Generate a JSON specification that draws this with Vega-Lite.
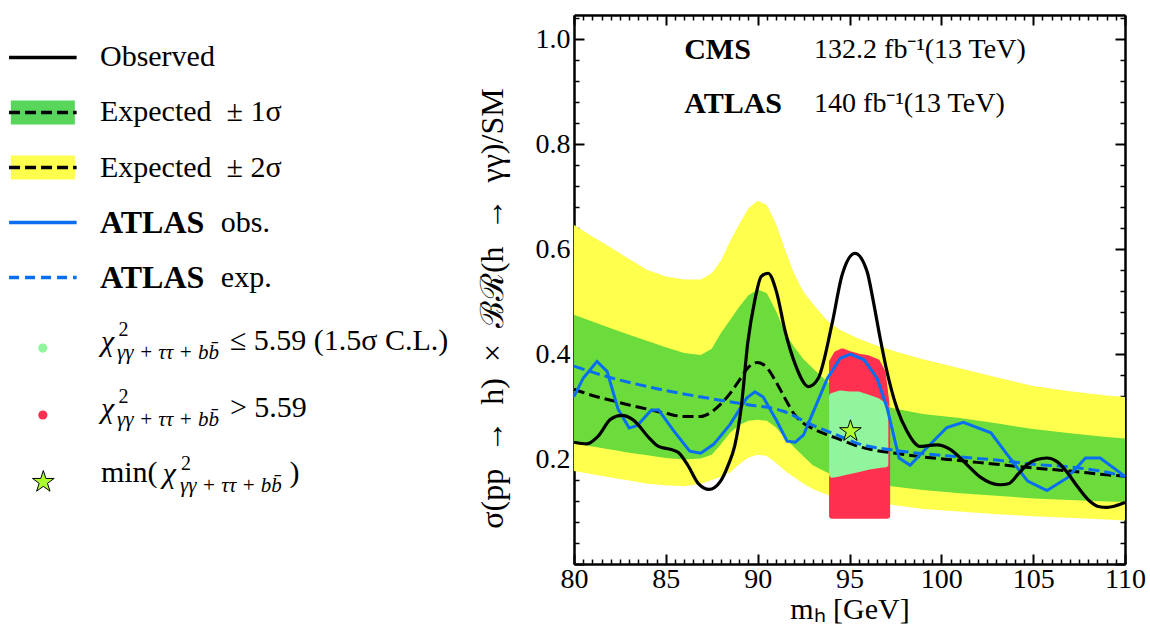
{
  "$schema": "https://vega.github.io/schema/vega-lite/v6.json",
  "background": "white",
  "padding": {"top": 4, "left": 0, "right": 0, "bottom": 0},
  "spacing": 0,
  "config": {
    "view": {"stroke": null},
    "font": "Liberation Serif",
    "text": {"font": "Liberation Serif", "color": "black"},
    "axis": {"labelFont": "Liberation Serif", "titleFont": "Liberation Serif", "labelColor": "black", "titleColor": "black", "grid": false, "zindex": 1}
  },
  "datasets": {
    "band": [
      {"m": 80, "lo2": 0.177, "lo1": 0.23, "exp": 0.333, "hi1": 0.475, "hi2": 0.646},
      {"m": 81, "lo2": 0.171, "lo1": 0.224, "exp": 0.321, "hi1": 0.462, "hi2": 0.624},
      {"m": 82, "lo2": 0.165, "lo1": 0.218, "exp": 0.312, "hi1": 0.449, "hi2": 0.603},
      {"m": 83, "lo2": 0.159, "lo1": 0.212, "exp": 0.303, "hi1": 0.437, "hi2": 0.581},
      {"m": 84, "lo2": 0.153, "lo1": 0.207, "exp": 0.295, "hi1": 0.425, "hi2": 0.56},
      {"m": 85, "lo2": 0.15, "lo1": 0.202, "exp": 0.287, "hi1": 0.413, "hi2": 0.548},
      {"m": 86, "lo2": 0.148, "lo1": 0.199, "exp": 0.281, "hi1": 0.402, "hi2": 0.542},
      {"m": 86.9, "lo2": 0.153, "lo1": 0.201, "exp": 0.281, "hi1": 0.398, "hi2": 0.542},
      {"m": 87.5, "lo2": 0.16, "lo1": 0.208, "exp": 0.29, "hi1": 0.41, "hi2": 0.554},
      {"m": 88.0, "lo2": 0.166, "lo1": 0.228, "exp": 0.305, "hi1": 0.44, "hi2": 0.578},
      {"m": 88.5, "lo2": 0.175, "lo1": 0.25, "exp": 0.325, "hi1": 0.465, "hi2": 0.615},
      {"m": 89.0, "lo2": 0.19, "lo1": 0.265, "exp": 0.35, "hi1": 0.49, "hi2": 0.648},
      {"m": 89.5, "lo2": 0.203, "lo1": 0.273, "exp": 0.375, "hi1": 0.512, "hi2": 0.678},
      {"m": 90.0, "lo2": 0.208, "lo1": 0.275, "exp": 0.384, "hi1": 0.523, "hi2": 0.692},
      {"m": 90.5, "lo2": 0.206, "lo1": 0.273, "exp": 0.374, "hi1": 0.516, "hi2": 0.684},
      {"m": 91.0, "lo2": 0.193, "lo1": 0.26, "exp": 0.347, "hi1": 0.482, "hi2": 0.648},
      {"m": 91.5, "lo2": 0.177, "lo1": 0.24, "exp": 0.315, "hi1": 0.44, "hi2": 0.598},
      {"m": 92.0, "lo2": 0.165, "lo1": 0.222, "exp": 0.285, "hi1": 0.413, "hi2": 0.552},
      {"m": 92.5, "lo2": 0.153, "lo1": 0.205, "exp": 0.268, "hi1": 0.39, "hi2": 0.518},
      {"m": 93.0, "lo2": 0.143, "lo1": 0.188, "exp": 0.258, "hi1": 0.373, "hi2": 0.496},
      {"m": 93.8, "lo2": 0.132, "lo1": 0.174, "exp": 0.246, "hi1": 0.347, "hi2": 0.463},
      {"m": 94.5, "lo2": 0.125, "lo1": 0.165, "exp": 0.237, "hi1": 0.331, "hi2": 0.446},
      {"m": 95.5, "lo2": 0.12, "lo1": 0.158, "exp": 0.224, "hi1": 0.316, "hi2": 0.429},
      {"m": 96.5, "lo2": 0.116, "lo1": 0.152, "exp": 0.216, "hi1": 0.305, "hi2": 0.416},
      {"m": 97.5, "lo2": 0.112, "lo1": 0.147, "exp": 0.211, "hi1": 0.296, "hi2": 0.405},
      {"m": 99, "lo2": 0.105, "lo1": 0.141, "exp": 0.204, "hi1": 0.286, "hi2": 0.39},
      {"m": 101, "lo2": 0.1, "lo1": 0.135, "exp": 0.197, "hi1": 0.278, "hi2": 0.373},
      {"m": 103, "lo2": 0.095, "lo1": 0.13, "exp": 0.19, "hi1": 0.268, "hi2": 0.356},
      {"m": 105, "lo2": 0.091, "lo1": 0.125, "exp": 0.183, "hi1": 0.257, "hi2": 0.339},
      {"m": 107, "lo2": 0.088, "lo1": 0.122, "exp": 0.177, "hi1": 0.249, "hi2": 0.329},
      {"m": 109, "lo2": 0.085, "lo1": 0.119, "exp": 0.17, "hi1": 0.242, "hi2": 0.321},
      {"m": 110, "lo2": 0.083, "lo1": 0.118, "exp": 0.167, "hi1": 0.239, "hi2": 0.318}
    ],
    "obs": [
      {"m": 80, "v": 0.232}, {"m": 80.7, "v": 0.229}, {"m": 81.3, "v": 0.243}, {"m": 82.0, "v": 0.276},
      {"m": 82.6, "v": 0.283}, {"m": 83.2, "v": 0.275}, {"m": 84.1, "v": 0.24}, {"m": 84.6, "v": 0.224},
      {"m": 85.3, "v": 0.218}, {"m": 85.7, "v": 0.212}, {"m": 86.2, "v": 0.188}, {"m": 86.8, "v": 0.152},
      {"m": 87.35, "v": 0.142}, {"m": 87.98, "v": 0.158}, {"m": 88.4, "v": 0.189}, {"m": 88.75, "v": 0.225},
      {"m": 89.1, "v": 0.297}, {"m": 89.47, "v": 0.424}, {"m": 89.83, "v": 0.5}, {"m": 90.2, "v": 0.548},
      {"m": 90.57, "v": 0.554}, {"m": 91.02, "v": 0.519}, {"m": 91.5, "v": 0.443}, {"m": 92.05, "v": 0.38},
      {"m": 92.77, "v": 0.338}, {"m": 93.3, "v": 0.354}, {"m": 94.04, "v": 0.456}, {"m": 94.6, "v": 0.551},
      {"m": 95.3, "v": 0.592}, {"m": 95.95, "v": 0.558}, {"m": 96.3, "v": 0.5}, {"m": 96.67, "v": 0.43},
      {"m": 97.0, "v": 0.373}, {"m": 97.58, "v": 0.297}, {"m": 98.13, "v": 0.253}, {"m": 98.85, "v": 0.224},
      {"m": 99.4, "v": 0.226}, {"m": 99.76, "v": 0.227}, {"m": 100.5, "v": 0.218}, {"m": 101.4, "v": 0.189},
      {"m": 102.1, "v": 0.166}, {"m": 102.67, "v": 0.155}, {"m": 103.2, "v": 0.151}, {"m": 103.66, "v": 0.153},
      {"m": 104.2, "v": 0.172}, {"m": 104.66, "v": 0.189}, {"m": 105.2, "v": 0.199}, {"m": 105.75, "v": 0.202},
      {"m": 106.3, "v": 0.195}, {"m": 106.8, "v": 0.177}, {"m": 107.4, "v": 0.148}, {"m": 108.1, "v": 0.119},
      {"m": 108.6, "v": 0.109}, {"m": 109.0, "v": 0.108}, {"m": 109.5, "v": 0.111}, {"m": 110, "v": 0.117}
    ],
    "atlasObs": [
      {"m": 80, "v": 0.319}, {"m": 80.5, "v": 0.354}, {"m": 81.25, "v": 0.386}, {"m": 81.8, "v": 0.367},
      {"m": 82.4, "v": 0.295}, {"m": 83.0, "v": 0.259}, {"m": 83.45, "v": 0.264}, {"m": 84.2, "v": 0.293},
      {"m": 84.6, "v": 0.294}, {"m": 85.4, "v": 0.255}, {"m": 86.3, "v": 0.215}, {"m": 86.9, "v": 0.211},
      {"m": 87.6, "v": 0.228}, {"m": 88.5, "v": 0.266}, {"m": 89.4, "v": 0.316}, {"m": 89.85, "v": 0.328},
      {"m": 90.3, "v": 0.318}, {"m": 91.05, "v": 0.272}, {"m": 91.6, "v": 0.234}, {"m": 92.05, "v": 0.232},
      {"m": 92.5, "v": 0.246}, {"m": 93.2, "v": 0.304}, {"m": 93.8, "v": 0.354}, {"m": 94.5, "v": 0.392},
      {"m": 95.05, "v": 0.4}, {"m": 95.8, "v": 0.389}, {"m": 96.5, "v": 0.354}, {"m": 97.05, "v": 0.297},
      {"m": 97.7, "v": 0.202}, {"m": 98.3, "v": 0.188}, {"m": 99.2, "v": 0.221}, {"m": 100.3, "v": 0.26},
      {"m": 101.2, "v": 0.27}, {"m": 102.7, "v": 0.25}, {"m": 103.6, "v": 0.208}, {"m": 104.7, "v": 0.158},
      {"m": 105.75, "v": 0.14}, {"m": 106.85, "v": 0.164}, {"m": 107.85, "v": 0.202}, {"m": 108.65, "v": 0.202},
      {"m": 110, "v": 0.167}
    ],
    "atlasExp": [
      {"m": 80, "v": 0.377}, {"m": 81.7, "v": 0.358}, {"m": 84.4, "v": 0.335}, {"m": 87.8, "v": 0.313},
      {"m": 89.4, "v": 0.304}, {"m": 91.4, "v": 0.291}, {"m": 92.9, "v": 0.266}, {"m": 94.3, "v": 0.246},
      {"m": 95.6, "v": 0.228}, {"m": 97.4, "v": 0.217}, {"m": 101, "v": 0.204}, {"m": 103, "v": 0.198},
      {"m": 105, "v": 0.19}, {"m": 107, "v": 0.185}, {"m": 108.5, "v": 0.178}, {"m": 110, "v": 0.167}
    ],
    "scatRed": [
      {"m": 94.05, "top": 0.385, "bot": 0.092}, {"m": 94.3, "top": 0.4, "bot": 0.092},
      {"m": 94.6, "top": 0.405, "bot": 0.092}, {"m": 95.0, "top": 0.4, "bot": 0.092},
      {"m": 95.5, "top": 0.395, "bot": 0.092}, {"m": 96.0, "top": 0.392, "bot": 0.092},
      {"m": 96.5, "top": 0.385, "bot": 0.092}, {"m": 96.8, "top": 0.365, "bot": 0.092},
      {"m": 97.0, "top": 0.31, "bot": 0.092}, {"m": 97.05, "top": 0.25, "bot": 0.092}
    ],
    "scatGreen": [
      {"m": 94.05, "top": 0.32, "bot": 0.17}, {"m": 94.5, "top": 0.325, "bot": 0.173},
      {"m": 95.0, "top": 0.323, "bot": 0.177}, {"m": 95.5, "top": 0.323, "bot": 0.181},
      {"m": 96.0, "top": 0.317, "bot": 0.185}, {"m": 96.5, "top": 0.311, "bot": 0.188},
      {"m": 96.95, "top": 0.3, "bot": 0.19}
    ],
    "best": [{"m": 95.05, "v": 0.253}],
    "notes": [
      {"exp": "CMS", "lumi": "132.2 fb⁻¹(13 TeV)"},
      {"exp": "ATLAS", "lumi": "140 fb⁻¹(13 TeV)"}
    ],
    "legTop": [
      {"key": "obs", "bold": "", "text": "Observed"},
      {"key": "e1", "bold": "", "text": "Expected\u00a0\u00a0±\u00a01σ"},
      {"key": "e2", "bold": "", "text": "Expected\u00a0\u00a0±\u00a02σ"},
      {"key": "aobs", "bold": "ATLAS", "text": "obs."},
      {"key": "aexp", "bold": "ATLAS", "text": "exp."}
    ],
    "legBot": [
      {"key": "g", "pre": "", "chi": "χ", "sup": "2", "sub": "γγ + ττ + bb̄", "rest": "≤ 5.59 (1.5σ C.L.)"},
      {"key": "r", "pre": "", "chi": "χ", "sup": "2", "sub": "γγ + ττ + bb̄", "rest": "> 5.59"},
      {"key": "s", "pre": "min(", "chi": "χ", "sup": "2", "sub": "γγ + ττ + bb̄", "rest": ")"}
    ]
  },
  "hconcat": [
    {
      "spacing": 0,
      "vconcat": [
        {
          "width": 476,
          "height": 305,
          "data": {"name": "legTop"},
          "encoding": {
            "y": {"field": "key", "type": "nominal", "scale": {"type": "point", "domain": ["obs", "e1", "e2", "aobs", "aexp"], "padding": 0.7727}, "axis": null}
          },
          "layer": [
            {
              "transform": [{"filter": "datum.key === 'e1' || datum.key === 'e2'"}],
              "mark": {"type": "point", "shape": "M-1,-0.375H1V0.375H-1Z", "size": 4096, "filled": true, "opacity": 1, "strokeWidth": 0},
              "encoding": {
                "x": {"datum": 9, "type": "quantitative", "scale": {"domain": [0, 100]}, "axis": null},
                "fill": {"field": "key", "type": "nominal", "scale": {"domain": ["e1", "e2", "g", "r"], "range": ["#58d65c", "#ffff4d", "#90f59c", "#ff3050"]}, "legend": null}
              }
            },
            {
              "mark": {"type": "rule", "strokeWidth": 3.3},
              "encoding": {
                "x": {"datum": 1.9, "type": "quantitative", "scale": {"domain": [0, 100]}, "axis": null},
                "x2": {"datum": 16.1},
                "stroke": {"field": "key", "type": "nominal", "scale": {"domain": ["obs", "e1", "e2", "aobs", "aexp"], "range": ["black", "black", "black", "#0a6ef0", "#0a6ef0"]}, "legend": null},
                "strokeDash": {"field": "key", "type": "nominal", "scale": {"domain": ["obs", "e1", "e2", "aobs", "aexp"], "range": [[1, 0], [11, 5], [11, 5], [1, 0], [10, 6]]}, "legend": null}
              }
            },
            {
              "transform": [{"filter": "datum.bold === ''"}],
              "mark": {"type": "text", "align": "left", "baseline": "middle", "fontSize": 30},
              "encoding": {
                "x": {"datum": 21.0, "type": "quantitative", "scale": {"domain": [0, 100]}, "axis": null},
                "text": {"field": "text"}
              }
            },
            {
              "transform": [{"filter": "datum.bold !== ''"}],
              "mark": {"type": "text", "align": "left", "baseline": "middle", "fontSize": 32, "fontWeight": "bold"},
              "encoding": {
                "x": {"datum": 21.0, "type": "quantitative", "scale": {"domain": [0, 100]}, "axis": null},
                "text": {"field": "bold"}
              }
            },
            {
              "transform": [{"filter": "datum.bold !== ''"}],
              "mark": {"type": "text", "align": "left", "baseline": "middle", "fontSize": 30},
              "encoding": {
                "x": {"datum": 46.4, "type": "quantitative", "scale": {"domain": [0, 100]}, "axis": null},
                "text": {"field": "text"}
              }
            }
          ]
        },
        {
          "width": 476,
          "height": 150,
          "data": {"name": "legBot"},
          "encoding": {
            "y": {"field": "key", "type": "nominal", "scale": {"type": "point", "domain": ["g", "r", "s"], "padding": 0.12}, "axis": null}
          },
          "layer": [
            {
              "transform": [{"filter": "datum.key !== 's'"}],
              "mark": {"type": "point", "shape": "circle", "size": 85, "filled": true, "opacity": 1, "strokeWidth": 0},
              "encoding": {
                "x": {"datum": 9.0, "type": "quantitative", "scale": {"domain": [0, 100]}, "axis": null},
                "fill": {"field": "key", "type": "nominal", "scale": {"domain": ["e1", "e2", "g", "r"], "range": ["#58d65c", "#ffff4d", "#90f59c", "#ff3050"]}, "legend": null}
              }
            },
            {
              "transform": [{"filter": "datum.key === 's'"}],
              "mark": {"type": "point", "shape": "M0,-1L0.2245,-0.309L0.9511,-0.309L0.3633,0.118L0.5878,0.809L0,0.382L-0.5878,0.809L-0.3633,0.118L-0.9511,-0.309L-0.2245,-0.309Z", "size": 520, "filled": true, "fill": "#adff2f", "stroke": "black", "strokeWidth": 1, "opacity": 1},
              "encoding": {
                "x": {"datum": 9.1, "type": "quantitative", "scale": {"domain": [0, 100]}, "axis": null}
              }
            },
            {
              "transform": [{"filter": "datum.key !== 's'"}],
              "mark": {"type": "text", "align": "left", "baseline": "middle", "fontSize": 30, "fontStyle": "italic", "dy": -6},
              "encoding": {
                "x": {"datum": 21.2, "type": "quantitative", "scale": {"domain": [0, 100]}, "axis": null},
                "text": {"field": "chi"}
              }
            },
            {
              "transform": [{"filter": "datum.key !== 's'"}],
              "mark": {"type": "text", "align": "left", "baseline": "middle", "fontSize": 20, "dy": -18},
              "encoding": {
                "x": {"datum": 24.9, "type": "quantitative", "scale": {"domain": [0, 100]}, "axis": null},
                "text": {"field": "sup"}
              }
            },
            {
              "transform": [{"filter": "datum.key !== 's'"}],
              "mark": {"type": "text", "align": "left", "baseline": "middle", "fontSize": 21, "fontStyle": "italic", "dy": 5},
              "encoding": {
                "x": {"datum": 24.6, "type": "quantitative", "scale": {"domain": [0, 100]}, "axis": null},
                "text": {"field": "sub"}
              }
            },
            {
              "transform": [{"filter": "datum.key !== 's'"}],
              "mark": {"type": "text", "align": "left", "baseline": "middle", "fontSize": 30, "dy": -7},
              "encoding": {
                "x": {"datum": 48.3, "type": "quantitative", "scale": {"domain": [0, 100]}, "axis": null},
                "text": {"field": "rest"}
              }
            },
            {
              "transform": [{"filter": "datum.key === 's'"}],
              "mark": {"type": "text", "align": "left", "baseline": "middle", "fontSize": 30, "dy": -9},
              "encoding": {
                "x": {"datum": 21.2, "type": "quantitative", "scale": {"domain": [0, 100]}, "axis": null},
                "text": {"field": "pre"}
              }
            },
            {
              "transform": [{"filter": "datum.key === 's'"}],
              "mark": {"type": "text", "align": "left", "baseline": "middle", "fontSize": 30, "fontStyle": "italic", "dy": -8},
              "encoding": {
                "x": {"datum": 34.2, "type": "quantitative", "scale": {"domain": [0, 100]}, "axis": null},
                "text": {"field": "chi"}
              }
            },
            {
              "transform": [{"filter": "datum.key === 's'"}],
              "mark": {"type": "text", "align": "left", "baseline": "middle", "fontSize": 20, "dy": -18},
              "encoding": {
                "x": {"datum": 38.0, "type": "quantitative", "scale": {"domain": [0, 100]}, "axis": null},
                "text": {"field": "sup"}
              }
            },
            {
              "transform": [{"filter": "datum.key === 's'"}],
              "mark": {"type": "text", "align": "left", "baseline": "middle", "fontSize": 21, "fontStyle": "italic", "dy": 4},
              "encoding": {
                "x": {"datum": 37.8, "type": "quantitative", "scale": {"domain": [0, 100]}, "axis": null},
                "text": {"field": "sub"}
              }
            },
            {
              "transform": [{"filter": "datum.key === 's'"}],
              "mark": {"type": "text", "align": "left", "baseline": "middle", "fontSize": 30, "dy": -9},
              "encoding": {
                "x": {"datum": 60.8, "type": "quantitative", "scale": {"domain": [0, 100]}, "axis": null},
                "text": {"field": "rest"}
              }
            }
          ]
        }
      ]
    },
    {
      "width": 551,
      "height": 549,
      "resolve": {"scale": {"x": "shared", "y": "shared"}, "axis": {"x": "independent", "y": "independent"}},
      "layer": [
        {
          "data": {"name": "band"},
          "mark": {"type": "area", "color": "#ffff4d", "opacity": 1},
          "encoding": {
            "x": {
              "field": "m", "type": "quantitative",
              "scale": {"domain": [80, 110], "nice": false, "zero": false},
              "axis": {
                "orient": "bottom",
                "values": [80,80.5,81,81.5,82,82.5,83,83.5,84,84.5,85,85.5,86,86.5,87,87.5,88,88.5,89,89.5,90,90.5,91,91.5,92,92.5,93,93.5,94,94.5,95,95.5,96,96.5,97,97.5,98,98.5,99,99.5,100,100.5,101,101.5,102,102.5,103,103.5,104,104.5,105,105.5,106,106.5,107,107.5,108,108.5,109,109.5,110],
                "labelExpr": "datum.value % 5 === 0 ? format(datum.value, 'd') : ''",
                "labelOverlap": false,
                "labelFlush": false,
                "labelFontSize": 28,
                "labelPadding": 11,
                "tickSize": {"condition": {"test": "datum.value % 5 === 0", "value": -10}, "value": -5},
                "tickWidth": {"condition": {"test": "datum.value % 5 === 0", "value": 2}, "value": 1.5},
                "tickColor": "black",
                "domainColor": "black",
                "domainWidth": 2.5,
                "title": "mₕ [GeV]",
                "titleFontSize": 30,
                "titleFontWeight": "normal",
                "titlePadding": -4
              }
            },
            "y": {
              "field": "hi2", "type": "quantitative",
              "scale": {"domain": [0, 1.046], "nice": false, "zero": false},
              "axis": {
                "orient": "left",
                "values": [0,0.04,0.08,0.12,0.16,0.2,0.24,0.28,0.32,0.36,0.4,0.44,0.48,0.52,0.56,0.6,0.64,0.68,0.72,0.76,0.8,0.84,0.88,0.92,0.96,1.0,1.04],
                "labelExpr": "datum.value > 0.1 && abs(datum.value * 5 - round(datum.value * 5)) < 0.001 ? format(datum.value, '.1f') : ''",
                "labelOverlap": false,
                "labelFlush": false,
                "labelFontSize": 28,
                "labelPadding": 14,
                "tickSize": {"condition": {"test": "abs(datum.value * 5 - round(datum.value * 5)) < 0.001", "value": -10}, "value": -5},
                "tickWidth": {"condition": {"test": "abs(datum.value * 5 - round(datum.value * 5)) < 0.001", "value": 2}, "value": 1.5},
                "tickColor": "black",
                "domainColor": "black",
                "domainWidth": 2.5,
                "title": "σ(pp\u00a0\u00a0→\u00a0\u00a0h)\u00a0\u00a0×\u00a0\u00a0ℬℛ(h\u00a0\u00a0→\u00a0\u00a0γγ)/SM",
                "titleFontSize": 32,
                "titleFontWeight": "normal",
                "titlePadding": 26,
                "titleY": 293
              }
            },
            "y2": {"field": "lo2"}
          }
        },
        {
          "data": {"name": "band"},
          "mark": {"type": "area", "color": "#6cdc3c", "opacity": 1},
          "encoding": {
            "x": {
              "field": "m", "type": "quantitative",
              "axis": {
                "orient": "top",
                "values": [80,80.5,81,81.5,82,82.5,83,83.5,84,84.5,85,85.5,86,86.5,87,87.5,88,88.5,89,89.5,90,90.5,91,91.5,92,92.5,93,93.5,94,94.5,95,95.5,96,96.5,97,97.5,98,98.5,99,99.5,100,100.5,101,101.5,102,102.5,103,103.5,104,104.5,105,105.5,106,106.5,107,107.5,108,108.5,109,109.5,110],
                "labels": false,
                "tickSize": {"condition": {"test": "datum.value % 5 === 0", "value": -10}, "value": -5},
                "tickWidth": {"condition": {"test": "datum.value % 5 === 0", "value": 2}, "value": 1.5},
                "tickColor": "black",
                "domainColor": "black",
                "domainWidth": 2.5,
                "title": null
              }
            },
            "y": {
              "field": "hi1", "type": "quantitative",
              "axis": {
                "orient": "right",
                "values": [0,0.04,0.08,0.12,0.16,0.2,0.24,0.28,0.32,0.36,0.4,0.44,0.48,0.52,0.56,0.6,0.64,0.68,0.72,0.76,0.8,0.84,0.88,0.92,0.96,1.0,1.04],
                "labels": false,
                "tickSize": {"condition": {"test": "abs(datum.value * 5 - round(datum.value * 5)) < 0.001", "value": -10}, "value": -5},
                "tickWidth": {"condition": {"test": "abs(datum.value * 5 - round(datum.value * 5)) < 0.001", "value": 2}, "value": 1.5},
                "tickColor": "black",
                "domainColor": "black",
                "domainWidth": 2.5,
                "title": null
              }
            },
            "y2": {"field": "lo1"}
          }
        },
        {
          "data": {"name": "scatRed"},
          "mark": {"type": "area", "color": "#ff3050", "stroke": "#ff3050", "strokeWidth": 6, "strokeJoin": "round", "opacity": 1},
          "encoding": {
            "x": {"field": "m", "type": "quantitative", "axis": null},
            "y": {"field": "top", "type": "quantitative", "axis": null},
            "y2": {"field": "bot"}
          }
        },
        {
          "data": {"name": "scatGreen"},
          "mark": {"type": "area", "color": "#90f59c", "stroke": "#90f59c", "strokeWidth": 6, "strokeJoin": "round", "opacity": 1},
          "encoding": {
            "x": {"field": "m", "type": "quantitative", "axis": null},
            "y": {"field": "top", "type": "quantitative", "axis": null},
            "y2": {"field": "bot"}
          }
        },
        {
          "data": {"name": "band"},
          "mark": {"type": "line", "color": "black", "strokeWidth": 3, "strokeDash": [11, 5], "interpolate": "monotone"},
          "encoding": {
            "x": {"field": "m", "type": "quantitative", "axis": null},
            "y": {"field": "exp", "type": "quantitative", "axis": null}
          }
        },
        {
          "data": {"name": "atlasExp"},
          "mark": {"type": "line", "color": "#0a6ef0", "strokeWidth": 3, "strokeDash": [11, 5], "interpolate": "monotone"},
          "encoding": {
            "x": {"field": "m", "type": "quantitative", "axis": null},
            "y": {"field": "v", "type": "quantitative", "axis": null}
          }
        },
        {
          "data": {"name": "atlasObs"},
          "mark": {"type": "line", "color": "#0a6ef0", "strokeWidth": 3},
          "encoding": {
            "x": {"field": "m", "type": "quantitative", "axis": null},
            "y": {"field": "v", "type": "quantitative", "axis": null}
          }
        },
        {
          "data": {"name": "obs"},
          "mark": {"type": "line", "color": "black", "strokeWidth": 3.2, "interpolate": "monotone"},
          "encoding": {
            "x": {"field": "m", "type": "quantitative", "axis": null},
            "y": {"field": "v", "type": "quantitative", "axis": null}
          }
        },
        {
          "data": {"name": "best"},
          "mark": {"type": "point", "shape": "M0,-1L0.2245,-0.309L0.9511,-0.309L0.3633,0.118L0.5878,0.809L0,0.382L-0.5878,0.809L-0.3633,0.118L-0.9511,-0.309L-0.2245,-0.309Z", "size": 520, "filled": true, "fill": "#adff2f", "stroke": "black", "strokeWidth": 1, "opacity": 1},
          "encoding": {
            "x": {"field": "m", "type": "quantitative", "axis": null},
            "y": {"field": "v", "type": "quantitative", "axis": null}
          }
        },
        {
          "data": {"name": "notes"},
          "transform": [{"filter": "datum.exp === 'CMS'"}],
          "mark": {"type": "text", "align": "left", "baseline": "middle", "fontSize": 30, "fontWeight": "bold"},
          "encoding": {
            "x": {"datum": 86.0, "type": "quantitative", "axis": null},
            "y": {"datum": 0.9785, "type": "quantitative", "axis": null},
            "text": {"field": "exp"}
          }
        },
        {
          "data": {"name": "notes"},
          "transform": [{"filter": "datum.exp === 'CMS'"}],
          "mark": {"type": "text", "align": "left", "baseline": "middle", "fontSize": 28},
          "encoding": {
            "x": {"datum": 93.07, "type": "quantitative", "axis": null},
            "y": {"datum": 0.9785, "type": "quantitative", "axis": null},
            "text": {"field": "lumi"}
          }
        },
        {
          "data": {"name": "notes"},
          "transform": [{"filter": "datum.exp === 'ATLAS'"}],
          "mark": {"type": "text", "align": "left", "baseline": "middle", "fontSize": 30, "fontWeight": "bold"},
          "encoding": {
            "x": {"datum": 86.0, "type": "quantitative", "axis": null},
            "y": {"datum": 0.8756, "type": "quantitative", "axis": null},
            "text": {"field": "exp"}
          }
        },
        {
          "data": {"name": "notes"},
          "transform": [{"filter": "datum.exp === 'ATLAS'"}],
          "mark": {"type": "text", "align": "left", "baseline": "middle", "fontSize": 28},
          "encoding": {
            "x": {"datum": 93.07, "type": "quantitative", "axis": null},
            "y": {"datum": 0.8756, "type": "quantitative", "axis": null},
            "text": {"field": "lumi"}
          }
        }
      ]
    }
  ]
}
